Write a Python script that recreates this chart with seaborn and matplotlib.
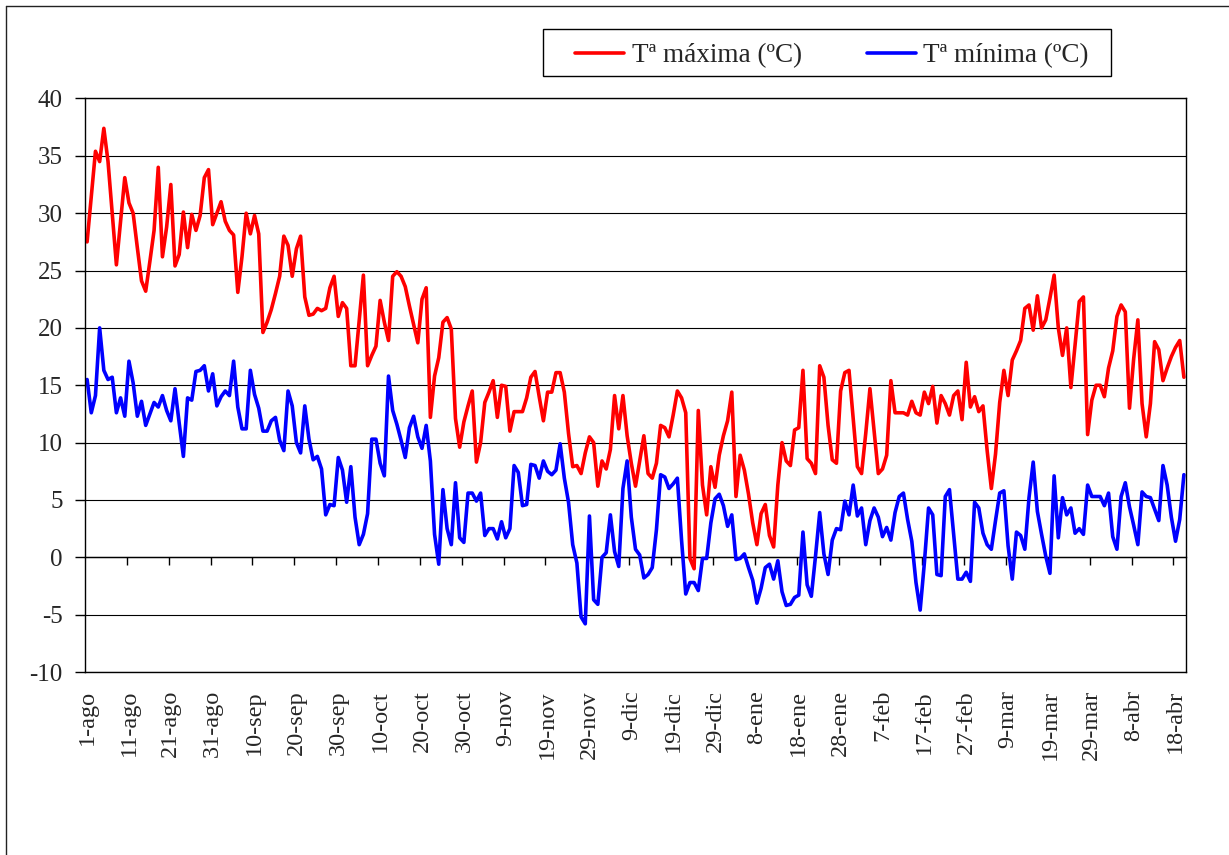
import numpy as np
import pandas as pd
import matplotlib
matplotlib.use('Agg')
import matplotlib.pyplot as plt
import seaborn as sns
from matplotlib.lines import Line2D
from matplotlib.patches import Rectangle
from matplotlib.ticker import MultipleLocator

# temperaturas diarias, 1-ago a 20-abr
t_max = [
    27.5, 31.5, 35.4, 34.5, 37.4, 34.5, 30.0, 25.5, 29.3, 33.1,
    30.9, 30.0, 27.0, 24.1, 23.2, 25.8, 28.5, 34.0, 26.2, 28.8,
    32.5, 25.4, 26.4, 30.1, 27.0, 29.9, 28.5, 29.8, 33.1, 33.8,
    29.0, 30.0, 31.0, 29.3, 28.5, 28.1, 23.1, 26.2, 30.0, 28.2,
    29.8, 28.2, 19.6, 20.5, 21.6, 23.0, 24.5, 28.0, 27.2, 24.5,
    26.9, 28.0, 22.7, 21.1, 21.2, 21.7, 21.5, 21.7, 23.5, 24.5,
    21.0, 22.2, 21.7, 16.7, 16.7, 20.6, 24.6, 16.7, 17.6, 18.4,
    22.4, 20.5, 18.9, 24.5, 24.9, 24.5, 23.6, 21.9, 20.3, 18.7,
    22.5, 23.5, 12.2, 15.8, 17.4, 20.5, 20.9, 19.9, 12.1, 9.6,
    11.8, 13.2, 14.5, 8.3, 10.0, 13.5, 14.4, 15.4, 12.2, 15.0,
    14.9, 11.0, 12.7, 12.7, 12.7, 13.9, 15.7, 16.2, 14.0, 11.9,
    14.4, 14.4, 16.1, 16.1, 14.4, 10.8, 7.9, 8.0, 7.3, 9.1,
    10.5, 10.0, 6.2, 8.4, 7.7, 9.4, 14.1, 11.2, 14.1, 10.6,
    8.2, 6.2, 8.4, 10.6, 7.3, 6.9, 8.2, 11.5, 11.3, 10.5,
    12.4, 14.5, 13.9, 12.6, -0.1, -1.0, 12.8, 6.3, 3.7, 7.9,
    6.1, 8.9, 10.6, 11.9, 14.4, 5.3, 8.9, 7.6, 5.5, 3.0,
    1.1, 3.8, 4.6, 1.9, 0.9, 6.3, 10.0, 8.4, 8.0, 11.1,
    11.3, 16.3, 8.6, 8.2, 7.3, 16.7, 15.7, 11.5, 8.5, 8.2,
    14.5, 16.1, 16.3, 12.1, 7.9, 7.3, 10.8, 14.7, 11.0, 7.3,
    7.7, 8.9, 15.4, 12.6, 12.6, 12.6, 12.4, 13.6, 12.6, 12.4,
    14.4, 13.4, 14.9, 11.7, 14.1, 13.4, 12.4, 14.1, 14.5, 12.0,
    17.0, 13.1, 14.0, 12.7, 13.2, 9.3, 6.0, 9.0, 13.5, 16.3,
    14.1, 17.2, 18.0, 18.9, 21.7, 22.0, 19.8, 22.8, 20.0, 20.7,
    22.6, 24.6, 20.0, 17.6, 20.0, 14.8, 18.5, 22.3, 22.7, 10.7,
    13.7, 15.0, 15.0, 14.0, 16.5, 18.0, 21.0, 22.0, 21.4, 13.0,
    17.3, 20.7, 13.4, 10.5, 13.4, 18.8, 18.1, 15.4, 16.5, 17.5,
    18.3, 18.9, 15.7,
]

t_min = [
    15.5, 12.6, 14.1, 20.0, 16.3, 15.5, 15.7, 12.6, 13.9, 12.3,
    17.1, 15.2, 12.3, 13.6, 11.5, 12.5, 13.5, 13.1, 14.1, 12.8,
    11.9, 14.7, 11.7, 8.8, 13.9, 13.7, 16.2, 16.3, 16.7, 14.5,
    16.0, 13.2, 14.0, 14.5, 14.1, 17.1, 13.1, 11.2, 11.2, 16.3,
    14.2, 13.0, 11.0, 11.0, 11.9, 12.2, 10.2, 9.3, 14.5, 13.2,
    10.0, 9.1, 13.2, 10.3, 8.5, 8.8, 7.7, 3.7, 4.6, 4.5,
    8.7, 7.6, 4.8, 7.9, 3.5, 1.1, 2.0, 3.8, 10.3, 10.3,
    8.2, 7.1, 15.8, 12.8, 11.6, 10.2, 8.7, 11.3, 12.3, 10.5,
    9.5, 11.5, 8.4, 2.0, -0.6, 5.9, 2.5, 1.1, 6.5, 1.7,
    1.3, 5.6, 5.6, 4.9, 5.6, 1.9, 2.5, 2.5, 1.6, 3.1,
    1.7, 2.5, 8.0, 7.4, 4.5, 4.6, 8.1, 8.0, 6.9, 8.4,
    7.5, 7.2, 7.6, 9.9, 6.9, 4.8, 1.1, -0.5, -5.2, -5.8,
    3.6, -3.7, -4.1, 0.0, 0.4, 3.7, 0.5, -0.8, 6.0, 8.4,
    3.5, 0.7, 0.2, -1.8, -1.5, -0.9, 2.4, 7.2, 7.0, 6.0,
    6.4, 6.9, 1.5, -3.2, -2.2, -2.2, -2.9, -0.1, -0.1, 3.0,
    5.1, 5.5, 4.5, 2.7, 3.7, -0.2, -0.1, 0.3, -0.9, -2.0,
    -4.0, -2.7, -0.9, -0.6, -1.9, -0.3, -3.0, -4.2, -4.1, -3.5,
    -3.3, 2.2, -2.4, -3.4, 0.1, 3.9, 0.3, -1.5, 1.5, 2.5,
    2.4, 4.9, 3.7, 6.3, 3.6, 4.3, 1.1, 3.2, 4.3, 3.5,
    1.8, 2.6, 1.5, 3.9, 5.3, 5.6, 3.3, 1.4, -2.2, -4.6,
    -0.5, 4.3, 3.7, -1.5, -1.6, 5.3, 5.9, 2.0, -1.9, -1.9,
    -1.3, -2.1, 4.8, 4.3, 2.1, 1.1, 0.7, 3.2, 5.6, 5.8,
    1.0, -1.9, 2.2, 1.9, 0.7, 5.2, 8.3, 4.0, 2.0, 0.1,
    -1.4, 7.1, 1.7, 5.2, 3.7, 4.3, 2.1, 2.5, 2.0, 6.3,
    5.3, 5.3, 5.3, 4.5, 5.6, 1.8, 0.7, 5.3, 6.5, 4.4,
    2.8, 1.1, 5.7, 5.3, 5.2, 4.2, 3.2, 8.0, 6.3, 3.5,
    1.4, 3.3, 7.2,
]

etiquetas = ['1-ago', '11-ago', '21-ago', '31-ago', '10-sep', '20-sep', '30-sep',
             '10-oct', '20-oct', '30-oct', '9-nov', '19-nov', '29-nov', '9-dic',
             '19-dic', '29-dic', '8-ene', '18-ene', '28-ene', '7-feb', '17-feb',
             '27-feb', '9-mar', '19-mar', '29-mar', '8-abr', '18-abr']

series = ['Tª máxima (ºC)', 'Tª mínima (ºC)']
colores = ['#FF0000', '#0000FF']

sns.set_style('white')
plt.rcParams['font.family'] = ['Liberation Serif', 'DejaVu Serif']
plt.rcParams['axes.unicode_minus'] = False

n = len(t_max)
df = pd.DataFrame({'dia': np.arange(n), series[0]: t_max, series[1]: t_min})
largo = df.melt(id_vars='dia', var_name='serie', value_name='temp')

W, H = 1229, 855
fig = plt.figure(figsize=(W / 100, H / 100), dpi=100)
ax = fig.add_axes([85 / W, 1 - 672 / H, (1186 - 85) / W, (672 - 98.5) / H])

sns.lineplot(data=largo, x='dia', y='temp', hue='serie', palette=colores,
             linewidth=2.6, legend=False, ax=ax)

ax.set_xlim(-0.5, n - 0.5)
ax.set_ylim(-10, 40)
ax.yaxis.set_major_locator(MultipleLocator(5))
ax.grid(axis='y', color='black', linewidth=0.8)
ax.grid(axis='x', visible=False)
ax.set_axisbelow(True)
for s in ax.spines.values():
    s.set_color('black')
    s.set_linewidth(1)

ax.set_xticks(np.arange(0, n, 10))
ax.set_xticklabels(etiquetas, rotation=90, fontsize=17.5, va='top')
ax.tick_params(axis='x', length=0, pad=13)
ax.tick_params(axis='y', left=True, length=7, width=1, color='black',
               direction='out', pad=9, labelsize=18)
ax.set_xlabel('')
ax.set_ylabel('')

# eje de categorias en y=0 con marcas entre grupos de 10 dias
eje0 = ax.secondary_xaxis(10 / 50)
eje0.set_xticks(np.arange(9.5, n, 10))
eje0.tick_params(axis='x', direction='out', length=6, width=1, color='black',
                 labelbottom=False, labeltop=False)
for s in eje0.spines.values():
    s.set_color('black')
    s.set_linewidth(1)

# leyenda: marco propio y entradas dentro
fig.add_artist(Rectangle((543 / W, 1 - 76 / H), 568 / W, 47 / H,
                         transform=fig.transFigure, facecolor='white',
                         edgecolor='black', linewidth=1, zorder=5))
handles = [Line2D([], [], color=c, linewidth=2.6) for c in colores]
leg = fig.legend(handles, series, loc='center',
                 bbox_to_anchor=(832 / W, 1 - 55.5 / H),
                 ncol=2, frameon=False, fontsize=19.5,
                 handlelength=1.8, handletextpad=0.28, columnspacing=2.4,
                 borderpad=0.2)
leg.set_zorder(6)

# marco exterior del grafico
fig.add_artist(Line2D([6 / W, 6 / W], [0, 1 - 6 / H], transform=fig.transFigure,
                      color='#222222', linewidth=1))
fig.add_artist(Line2D([6 / W, 1], [1 - 6 / H, 1 - 6 / H], transform=fig.transFigure,
                      color='#222222', linewidth=1))

fig.savefig('out.png', dpi=100)
